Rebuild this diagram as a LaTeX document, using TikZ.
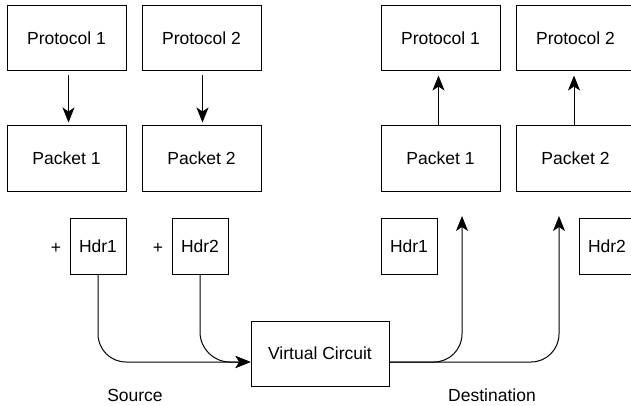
\documentclass[tikz,border=0pt]{standalone}
\usepackage{fontspec}
\setmainfont{Liberation Sans}
\usetikzlibrary{arrows.meta}
\begin{document}
\begin{tikzpicture}[x=1pt,y=-1pt,
  box/.style={draw,line width=1pt,inner sep=0pt,minimum width=119pt,minimum height=65pt,font=\fontsize{17.5}{20}\selectfont},
  hdr/.style={draw,line width=1pt,inner sep=0pt,minimum width=56pt,minimum height=56pt,font=\fontsize{17.5}{20}\selectfont},
  lbl/.style={inner sep=0pt,font=\fontsize{17.5}{20}\selectfont},
  conn/.style={line width=1pt,-{Stealth[length=15pt,width=12pt,inset=4pt]}}]
\useasboundingbox (0,0) rectangle (631,406);
% source side
\node[box] (sp1) at (66.5,38.5) {Protocol 1};
\node[box] (sp2) at (201.5,38.5) {Protocol 2};
\node[box] (sk1) at (66.5,158.5) {Packet 1};
\node[box] (sk2) at (201.5,158.5) {Packet 2};
\node[hdr] (sh1) at (98,246) {Hdr1};
\node[hdr] (sh2) at (200,246) {Hdr2};
\node[lbl] (plus1) at (56,248) {+};
\node[lbl] (plus2) at (158,248) {+};
% destination side
\node[box] (dp1) at (440.5,38.5) {Protocol 1};
\node[box] (dp2) at (575.5,38.5) {Protocol 2};
\node[box] (dk1) at (440.5,158.5) {Packet 1};
\node[box] (dk2) at (575.5,158.5) {Packet 2};
\node[hdr] (dh1) at (409,246) {Hdr1};
\node[hdr] (dh2) at (607,246) {Hdr2};
% virtual circuit
\node[box,minimum width=138pt] (vc) at (320,353.5) {Virtual Circuit};
\node[lbl] (src) at (135,395) {Source};
\node[lbl] (dst) at (492,395) {Destination};
\coordinate (t1) at (462,216);
\coordinate (t2) at (559,216);
% arrows
\draw[conn,shorten <=4pt,shorten >=3pt] ([xshift=2pt]sp1.south) -- ([xshift=2pt]sk1.north);
\draw[conn,shorten <=4pt,shorten >=3pt] ([xshift=1pt]sp2.south) -- ([xshift=1pt]sk2.north);
\draw[conn,shorten >=4pt] ([xshift=-2pt]dk1.north) -- ([xshift=-2pt]dp1.south);
\draw[conn,shorten >=4pt] ([xshift=-1.5pt]dk2.north) -- ([xshift=-1.5pt]dp2.south);
\draw[conn,rounded corners=28pt] (sh1.south) |- ([yshift=-8.5pt]vc.west);
\draw[conn,rounded corners=30pt] (sh2.south) |- ([yshift=-8.5pt]vc.west);
\draw[conn,rounded corners=28pt] ([yshift=-8.5pt]vc.east) -| (t1);
\draw[conn,rounded corners=28pt] ([yshift=-8.5pt]vc.east) -| (t2);
\end{tikzpicture}
\end{document}
